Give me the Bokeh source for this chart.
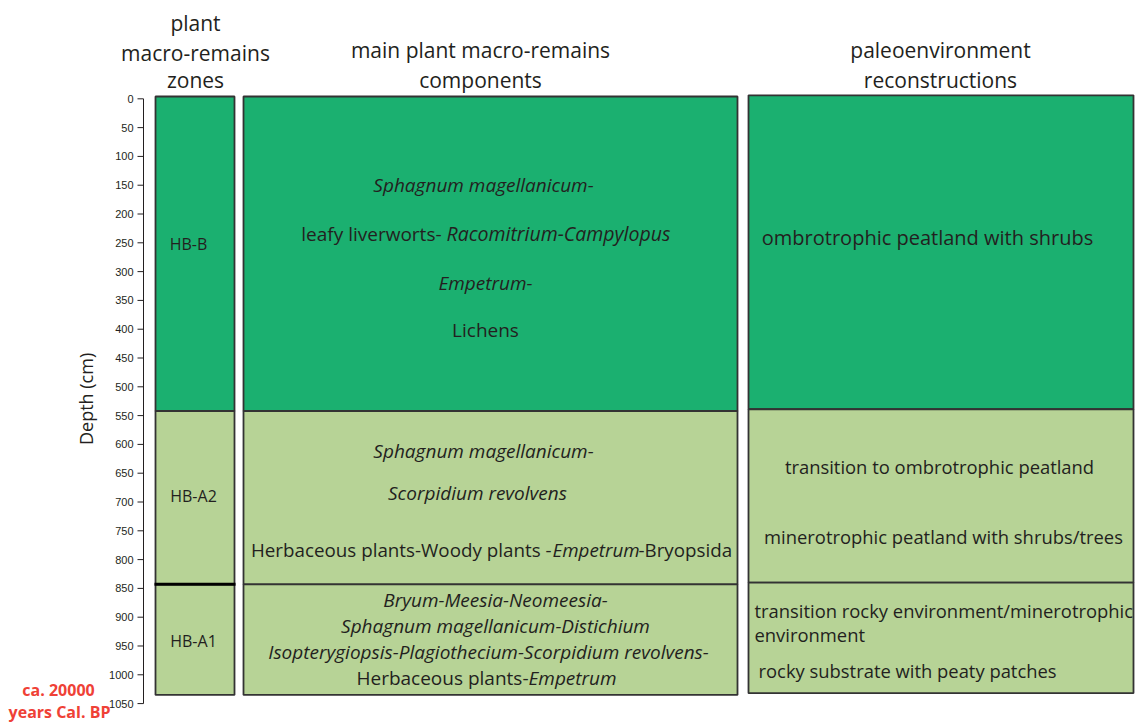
import math
from bokeh.plotting import figure
from bokeh.models import Range1d, Label, ColumnDataSource
from bokeh.embed import file_html
from bokeh.resources import INLINE

# ---------------- data ----------------
zones = ["HB-B", "HB-A2", "HB-A1"]
zone_top = [-4, 542, 843]
zone_bottom = [542, 843, 1035]
zone_colors = ["#1bb070", "#b7d396", "#b7d396"]

paleo_top = [-6, 539, 840]
paleo_bottom = [539, 840, 1032]

depth_ticks = list(range(0, 1051, 50))
depth_tick_labels = [str(t) for t in depth_ticks]

# component texts: (depth, [(text, style), ...])
components = [
    (149, [("Sphagnum magellanicum-", "italic")]),
    (234, [("leafy liverworts- ", "normal"), ("Racomitrium-Campylopus", "italic")]),
    (319, [("Empetrum-", "italic")]),
    (402, [("Lichens", "normal")]),
    (611, [("Sphagnum magellanicum-", "italic")]),
    (685, [("Scorpidium revolvens", "italic")]),
    (783, [("Herbaceous plants-Woody plants -", "normal"), ("Empetrum", "italic"), ("-Bryopsida", "normal")]),
    (871, [("Bryum-Meesia-Neomeesia-", "italic")]),
    (915, [("Sphagnum magellanicum-Distichium", "italic")]),
    (960, [("Isopterygiopsis-Plagiothecium-Scorpidium revolvens-", "italic")]),
    (1005, [("Herbaceous plants-", "normal"), ("Empetrum", "italic")]),
]

paleo_texts = [
    (241, "ombrotrophic peatland with shrubs"),
    (638, "transition to ombrotrophic peatland"),
    (760, "minerotrophic peatland with shrubs/trees"),
    (888, "transition rocky environment/minerotrophic"),
    (930, "environment"),
    (993, "rocky substrate with peaty patches"),
]

zone_label_depth = [252, 690, 942]

# ---------------- layout ----------------
col_zone = (155, 234)
col_comp = (243, 737)
col_paleo = (748, 1133)
axis_x = 143

FONT = "Open Sans"
TXT = "#231f20"

p = figure(width=1136, height=724, output_backend="svg", toolbar_location=None,
           x_range=Range1d(0, 1136), y_range=Range1d(1086.3, -170.7),
           x_axis_location=None, y_axis_location=None,
           min_border=0, min_border_left=0, min_border_right=0,
           min_border_top=0, min_border_bottom=0)
p.outline_line_color = None
p.xgrid.visible = False
p.ygrid.visible = False
p.background_fill_color = "white"

# depth axis (drawn through the y scale)
p.segment(x0=[axis_x], x1=[axis_x], y0=[depth_ticks[0]], y1=[depth_ticks[-1]],
          line_color=TXT, line_width=1)
tick_src = ColumnDataSource(dict(y=depth_ticks, lab=depth_tick_labels,
                                 x0=[axis_x - 6] * len(depth_ticks),
                                 x1=[axis_x] * len(depth_ticks),
                                 xl=[axis_x - 10] * len(depth_ticks)))
p.segment(x0="x0", x1="x1", y0="y", y1="y", source=tick_src, line_color=TXT, line_width=1)
p.text(x="xl", y="y", text="lab", source=tick_src, text_align="right", text_baseline="middle",
       text_font_size="11px", text_color=TXT, text_font={"value": "Liberation Sans"})

# zone column
p.quad(left=[col_zone[0]] * 3, right=[col_zone[1]] * 3, top=zone_top, bottom=zone_bottom,
       fill_color=zone_colors, line_color="#333333", line_width=1.8)
p.segment(x0=[col_zone[0] - 1], x1=[col_zone[1] + 1], y0=[zone_top[2]], y1=[zone_top[2]],
          line_color="black", line_width=3)
# components column
p.quad(left=[col_comp[0]] * 3, right=[col_comp[1]] * 3, top=zone_top, bottom=zone_bottom,
       fill_color=zone_colors, line_color="#333333", line_width=1.8)
# paleo column
p.quad(left=[col_paleo[0]] * 3, right=[col_paleo[1]] * 3, top=paleo_top, bottom=paleo_bottom,
       fill_color=zone_colors, line_color="#333333", line_width=1.8)


def lab(x, y, text, size="19px", style="normal", align="center", color=TXT, angle=0.0):
    p.add_layout(Label(x=x, y=y, text=text, text_font=FONT, text_font_size=size,
                       text_font_style=style, text_align=align, text_baseline="middle",
                       text_color=color, angle=angle))


# headers
lab(195, -132, "plant", size="21px")
lab(195, -80, "macro-remains", size="21px")
lab(195, -32, "zones", size="21px")
lab(480, -84, "main plant macro-remains", size="21px")
lab(480, -32, "components", size="21px")
lab(940, -84, "paleoenvironment", size="21px")
lab(940, -32, "reconstructions", size="21px")

# zone labels
lab(188, zone_label_depth[0], zones[0], size="16px")
lab(193, zone_label_depth[1], zones[1], size="16px")
lab(193, zone_label_depth[2], zones[2], size="16px")

# component texts
centers = {0: 483, 2: 485, 3: 485, 4: 483, 5: 477, 7: 495, 8: 495, 9: 488}
for i, (d, parts) in enumerate(components):
    if len(parts) == 1:
        lab(centers[i], d, parts[0][0], style=parts[0][1])
    elif i == 1:
        lab(446, d, parts[0][0], style=parts[0][1], align="right")
        lab(446, d, parts[1][0], style=parts[1][1], align="left", size="19.5px")
    elif i == 10:
        lab(528, d, parts[0][0], style=parts[0][1], align="right")
        lab(528, d, parts[1][0], style=parts[1][1], align="left")
    else:
        lab(551, d, parts[0][0], style=parts[0][1], align="right", size="18.8px")
        lab(552, d, parts[1][0], style=parts[1][1], align="left", size="18.8px")
        lab(638, d, parts[2][0], style=parts[2][1], align="left", size="18.8px")

# paleo texts
lab(927, paleo_texts[0][0], paleo_texts[0][1], size="20px")
lab(939, paleo_texts[1][0], paleo_texts[1][1], size="18.4px")
lab(943, paleo_texts[2][0], paleo_texts[2][1], size="18.4px")
lab(754, paleo_texts[3][0], paleo_texts[3][1], size="18.4px", align="left")
lab(754, paleo_texts[4][0], paleo_texts[4][1], size="18.4px", align="left")
lab(758, paleo_texts[5][0], paleo_texts[5][1], size="18.4px", align="left")

# depth label and age note
lab(85, 521, "Depth (cm)", size="18px", angle=math.pi / 2)
lab(58, 1027, "ca. 20000", size="16px", style="bold", color="#ef4136")
lab(59, 1065, "years Cal. BP", size="16px", style="bold", color="#ef4136")

open("out.html", "w").write(file_html(p, INLINE))
